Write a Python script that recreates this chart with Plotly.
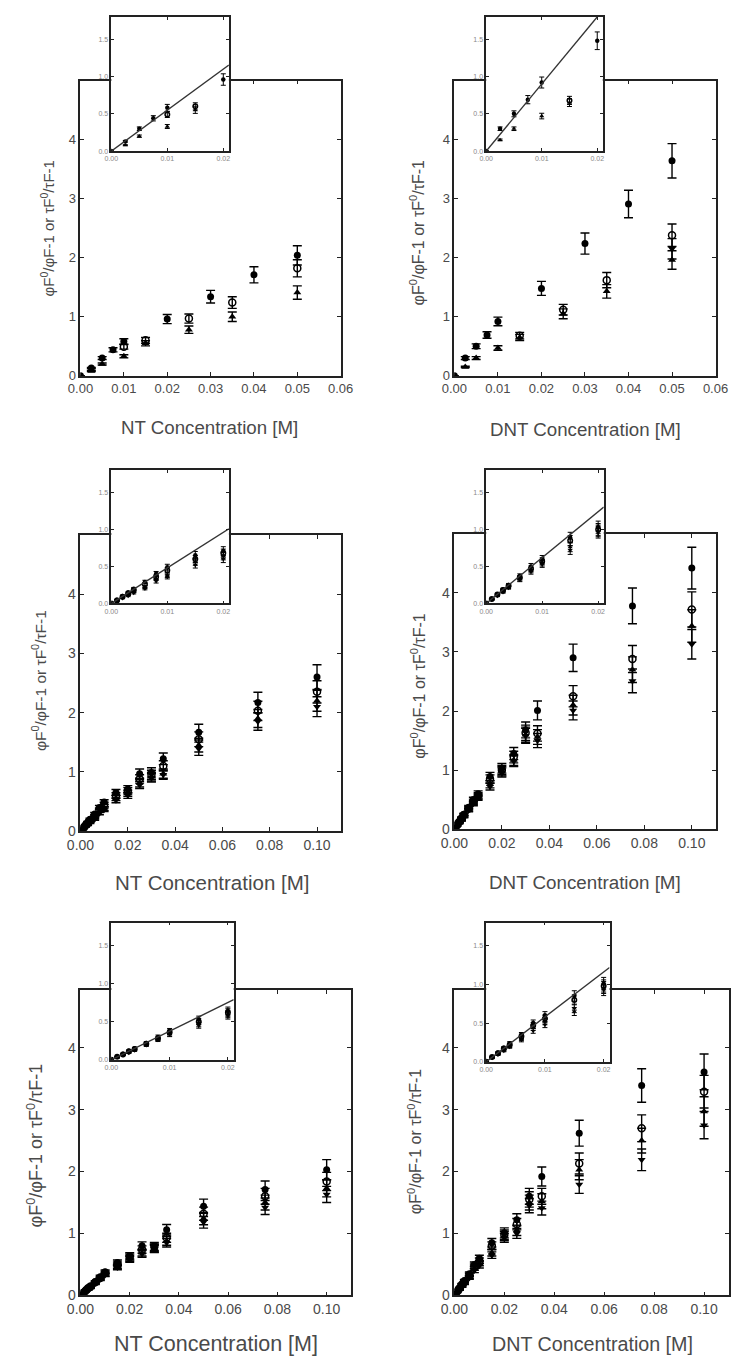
import plotly.graph_objects as go

W, H = 743, 1366

# ---------------- data ----------------
# concentrations [M]
x_top = [0, 0.0025, 0.005, 0.0075, 0.01, 0.015, 0.02, 0.025, 0.03, 0.035, 0.04, 0.05]
x_low = [0, 0.001, 0.002, 0.003, 0.004, 0.006, 0.008, 0.01, 0.015, 0.02, 0.025, 0.03, 0.035, 0.05, 0.075, 0.1]

# panel 1 : NT (top row)
p1_a = [0, 0.13, 0.30, 0.44, 0.58, None, 0.96, None, 1.34, None, 1.71, 2.04]
p1_b = [None, None, None, None, 0.49, 0.60, None, 0.97, None, 1.24, None, 1.82]
p1_c = [0, 0.08, 0.20, None, 0.33, 0.55, None, 0.78, None, 1.00, None, 1.41]
p1_d = [None] * 12
# panel 2 : DNT (top row)
p2_a = [0, 0.30, 0.50, 0.69, 0.92, None, 1.48, None, 2.24, None, 2.91, 3.64]
p2_b = [None, None, None, None, None, 0.68, None, 1.12, None, 1.62, None, 2.38]
p2_c = [0, 0.15, 0.30, None, 0.47, 0.65, None, 1.05, None, 1.43, None, 1.96]
p2_d = [None, None, None, None, None, None, None, None, None, None, None, 2.15]
# panel 3 : NT (middle row)
p3_a = [0, 0.05, 0.10, 0.15, 0.20, 0.29, 0.40, 0.49, 0.65, 0.71, 0.97, 0.99, 1.22, 1.67, 2.17, 2.60]
p3_b = [0, 0.04, 0.09, 0.13, 0.18, 0.26, 0.36, 0.45, 0.60, 0.68, 0.88, 0.95, 1.10, 1.55, 2.03, 2.35]
p3_c = [0, 0.04, 0.08, 0.12, 0.16, 0.22, 0.34, 0.38, 0.56, 0.64, 0.81, 0.92, 0.97, 1.45, 1.90, 2.20]
p3_d = [0, 0.03, 0.07, 0.10, 0.14, 0.20, 0.30, 0.36, 0.52, 0.60, 0.78, 0.90, 0.95, 1.39, 1.85, 2.10]
# panel 4 : DNT (middle row)
p4_a = [0, 0.06, 0.12, 0.19, 0.25, 0.37, 0.50, 0.60, 0.89, 1.03, 1.28, 1.68, 2.01, 2.90, 3.78, 4.42]
p4_b = [0, 0.06, 0.12, 0.18, 0.24, 0.35, 0.47, 0.57, 0.85, 1.00, 1.22, 1.63, 1.62, 2.25, 2.88, 3.72]
p4_c = [0, 0.05, 0.11, 0.16, 0.22, 0.33, 0.45, 0.55, 0.76, 0.98, 1.17, 1.60, 1.56, 2.10, 2.70, 3.44]
p4_d = [0, 0.05, 0.10, 0.15, 0.21, 0.32, 0.43, 0.53, 0.72, 0.96, 1.15, 1.58, 1.50, 2.01, 2.51, 3.13]
# panel 5 : NT (bottom row)
p5_a = [0, 0.04, 0.08, 0.12, 0.15, 0.22, 0.30, 0.38, 0.53, 0.64, 0.80, 0.77, 1.06, 1.44, 1.71, 2.03]
p5_b = [0, 0.04, 0.07, 0.11, 0.14, 0.21, 0.28, 0.36, 0.50, 0.62, 0.74, 0.79, 0.93, 1.32, 1.60, 1.84]
p5_c = [0, 0.03, 0.07, 0.10, 0.13, 0.20, 0.27, 0.34, 0.47, 0.60, 0.69, 0.76, 0.88, 1.24, 1.50, 1.73]
p5_d = [0, 0.03, 0.06, 0.09, 0.12, 0.19, 0.26, 0.33, 0.45, 0.58, 0.67, 0.75, 0.85, 1.18, 1.42, 1.63]
# panel 6 : DNT (bottom row)
p6_a = [0, 0.06, 0.12, 0.18, 0.24, 0.35, 0.50, 0.60, 0.85, 1.01, 1.22, 1.60, 1.92, 2.62, 3.39, 3.61]
p6_b = [0, 0.06, 0.11, 0.17, 0.22, 0.33, 0.47, 0.56, 0.80, 0.98, 1.15, 1.55, 1.60, 2.13, 2.70, 3.29]
p6_c = [0, 0.05, 0.10, 0.15, 0.20, 0.30, 0.44, 0.52, 0.69, 0.96, 1.05, 1.50, 1.52, 2.03, 2.50, 2.97]
p6_d = [0, 0.05, 0.09, 0.14, 0.19, 0.28, 0.40, 0.48, 0.65, 0.93, 1.00, 1.45, 1.41, 1.79, 2.19, 2.75]

# Stern-Volmer slopes of the inset fit lines [1/M]
inset_slopes = [55, 90, 48, 62, 37.5, 58]

x_titles = ["NT Concentration [M]", "DNT Concentration [M]",
            "NT Concentration [M]", "DNT Concentration [M]",
            "NT Concentration [M]", "DNT Concentration [M]"]
y_title = "φF<sup>0</sup>/φF-1 or τF<sup>0</sup>/τF-1"

top_ticks = [0, 0.01, 0.02, 0.03, 0.04, 0.05, 0.06]
top_labels = ["0.00", "0.01", "0.02", "0.03", "0.04", "0.05", "0.06"]
low_ticks = [0, 0.02, 0.04, 0.06, 0.08, 0.10]
low_labels = ["0.00", "0.02", "0.04", "0.06", "0.08", "0.10"]
y_ticks = [0, 1, 2, 3, 4]
y_labels = ["0", "1", "2", "3", "4"]
in_x_ticks = [0, 0.01, 0.02]
in_x_labels = ["0.00", "0.01", "0.02"]
in_y_ticks = [0, 0.5, 1.0, 1.5]
in_y_labels = ["0.0", "0.5", "1.0", "1.5"]

panels = [
    (x_top, [p1_a, p1_b, p1_c, p1_d]),
    (x_top, [p2_a, p2_b, p2_c, p2_d]),
    (x_low, [p3_a, p3_b, p3_c, p3_d]),
    (x_low, [p4_a, p4_b, p4_c, p4_d]),
    (x_low, [p5_a, p5_b, p5_c, p5_d]),
    (x_low, [p6_a, p6_b, p6_c, p6_d]),
]

# ---------------- layout (pixel boxes: left, right, top, bottom) ----------------
main_boxes = [(69, 339, 81, 378), (457, 728, 81, 378),
              (69, 339, 538, 836), (457, 728, 537, 834),
              (69, 350, 996, 1303), (457, 742, 996, 1303)]
inset_boxes = [(101, 223, 17, 152), (490, 611, 17, 152),
               (101, 223, 473, 607), (490, 612, 473, 607),
               (101, 228, 928, 1066), (490, 618, 928, 1068)]
main_xmax = [0.06, 0.06, 0.11, 0.11, 0.11, 0.11]
main_ymax = [5.0, 5.0, 5.0, 5.0, 4.93, 4.93]
inset_xmax = 0.021
inset_ymax = 1.8

xt_pos = [(203, 430), (593, 432), (205, 888), (593, 888), (210, 1352), (600, 1352)]
xt_size = [18.7, 18.7, 20.5, 18.8, 21.5, 19.7]
yt_pos = [(35, 230), (418, 234), (26, 685), (419, 690), (22, 1152), (416, 1148)]
yt_size = [15, 16, 15.5, 16, 18, 16]
tick_size = [13, 13, 14, 14, 14, 14]

styles = [
    dict(symbol="circle", color="black", size=7),
    dict(symbol="circle-open", color="black", size=7, line=dict(width=1.5, color="black")),
    dict(symbol="triangle-up", color="black", size=7),
    dict(symbol="triangle-down", color="black", size=7),
]

TXT = "#4a4a4a"
LINE = "#222222"


def dx(l, r):
    return [l / W, r / W]


def dy(t, b):
    return [1 - b / H, 1 - t / H]


def ax_name(i):
    return "" if i == 1 else str(i)


fig = go.Figure()
layout = dict(width=W, height=H, margin=dict(l=0, r=0, t=0, b=0),
              paper_bgcolor="white", plot_bgcolor="white", showlegend=False,
              font=dict(family="Arial, Liberation Sans, sans-serif", color=TXT))
annotations = []

for p, (xs, series) in enumerate(panels):
    mi = p + 1
    ii = p + 7
    # main traces
    for s, ys in enumerate(series):
        fig.add_trace(go.Scatter(
            x=xs, y=ys, mode="markers",
            xaxis="x" + ax_name(mi), yaxis="y" + ax_name(mi),
            marker=styles[s],
            error_y=dict(type="percent", value=8, color="black", thickness=1.4, width=4.5),
            hoverinfo="skip"))
    # inset traces
    for s, ys in enumerate(series):
        xi = [x for x, y in zip(xs, ys) if x <= inset_xmax]
        yi = [y for x, y in zip(xs, ys) if x <= inset_xmax]
        st = dict(styles[s])
        st["size"] = 4.5
        fig.add_trace(go.Scatter(
            x=xi, y=yi, mode="markers",
            xaxis="x" + ax_name(ii), yaxis="y" + ax_name(ii),
            marker=st,
            error_y=dict(type="percent", value=8, color="black", thickness=1, width=2.5),
            hoverinfo="skip"))
    fig.add_trace(go.Scatter(
        x=[0, inset_xmax], y=[0, inset_slopes[p] * inset_xmax], mode="lines",
        xaxis="x" + ax_name(ii), yaxis="y" + ax_name(ii),
        line=dict(color="#333333", width=1.4), hoverinfo="skip"))

    l, r, t, b = main_boxes[p]
    common = dict(showline=True, linecolor=LINE, linewidth=1.6, mirror="allticks",
                  ticks="inside", ticklen=4, tickcolor=LINE, tickwidth=1,
                  showgrid=False, zeroline=False)
    xtv, xtl = (top_ticks, top_labels) if p < 2 else (low_ticks, low_labels)
    layout["xaxis" + ax_name(mi)] = dict(
        domain=dx(l, r), range=[0, main_xmax[p]], anchor="y" + ax_name(mi),
        tickvals=xtv, ticktext=xtl, tickfont=dict(size=tick_size[p], color=TXT), **common)
    layout["yaxis" + ax_name(mi)] = dict(
        domain=dy(t, b), range=[0, main_ymax[p]], anchor="x" + ax_name(mi),
        tickvals=y_ticks, ticktext=y_labels, tickfont=dict(size=tick_size[p], color=TXT), **common)

    l, r, t, b = inset_boxes[p]
    icommon = dict(showline=True, linecolor=LINE, linewidth=1.5, mirror="allticks",
                   ticks="inside", ticklen=3, tickcolor=LINE, tickwidth=1,
                   showgrid=False, zeroline=False, tickfont=dict(size=7, color="#888888"))
    layout["xaxis" + ax_name(ii)] = dict(
        domain=dx(l, r), range=[0, inset_xmax], anchor="y" + ax_name(ii),
        tickvals=in_x_ticks, ticktext=in_x_labels, **icommon)
    layout["yaxis" + ax_name(ii)] = dict(
        domain=dy(t, b), range=[0, inset_ymax], anchor="x" + ax_name(ii),
        tickvals=in_y_ticks, ticktext=in_y_labels, **icommon)

    cx, cy = xt_pos[p]
    annotations.append(dict(text=x_titles[p], x=cx / W, y=1 - cy / H, xref="paper", yref="paper",
                            xanchor="center", yanchor="middle", showarrow=False,
                            font=dict(size=xt_size[p], color=TXT)))
    cx, cy = yt_pos[p]
    annotations.append(dict(text=y_title, x=cx / W, y=1 - cy / H, xref="paper", yref="paper",
                            xanchor="center", yanchor="middle", showarrow=False, textangle=-90,
                            font=dict(size=yt_size[p], color=TXT)))

layout["annotations"] = annotations
fig.update_layout(**layout)

fig.write_html("out.html", config={"displayModeBar": False},
               post_script="document.body.style.margin='0';document.body.style.overflow='hidden';")
